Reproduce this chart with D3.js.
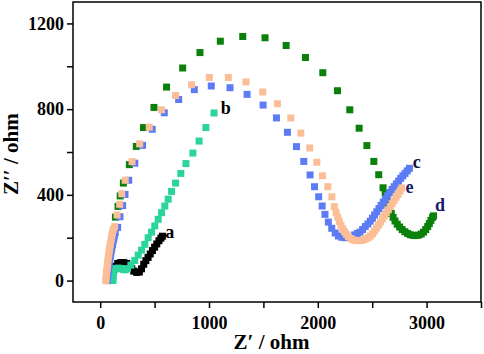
<!DOCTYPE html>
<html>
<head>
<meta charset="utf-8">
<script src="https://cdn.jsdelivr.net/npm/d3@7"></script>
<style>
  body { margin: 0; background: #fff; }
  svg text { font-family: "Times New Roman", "Liberation Serif", serif; font-weight: bold; }
</style>
</head>
<body>
<div id="chart"></div>
<script>
// Nyquist data, [Z', Z''] in ohm
var curveA = [[106,14],[115,42],[133,66],[161,80],[189,84],[216,84],[244,80],[271,70],[290,56],[308,44],
  [336,38],[360,40],[380,55],[400,76],[420,93],[440,108],[460,124],[480,140],[500,156],[520,171],
  [540,186],[558,198],[572,207]];

var curveB = [[118,0],[118,14],[120,28],[124,42],[132,52],[150,57],[170,58],[190,56],[210,52],[230,50],
  [251,56],[282,72],[318,94],[349,119],[380,142],[410,169],[441,200],[472,226],[502,255],[533,286],
  [564,317],[594,348],[625,380],[656,416],[693,455],[741,500],[788,546],[852,595],[909,651],[971,714],
  [1046,782]];

var curveC = [[65,0],[67,14],[70,28],[73,42],[76,56],[80,70],[84,84],[88,98],[92,112],[97,126],
  [102,140],[107,154],[113,168],[119,182],[125,196],[131,210],[138,224],[160,248],[182,298],[206,350],
  [228,402],[262,468],[318,548],[389,631],[478,706],[589,783],[721,845],[865,891],[1021,908],[1193,900],
  [1350,869],[1497,819],[1620,759],[1721,692],[1804,625],[1871,556],[1929,493],[1970,438],[2008,391],
  [2040,348],[2066,309],[2097,273],[2128,244],[2160,222],[2190,208],[2220,202],[2250,200],[2280,202],
  [2310,206],[2338,213],[2364,220],[2388,226],[2412,238],[2436,252],[2460,264],[2482,277],[2502,291],
  [2522,306],[2542,321],[2562,336],[2582,351],[2602,366],[2622,381],[2642,396],[2662,411],[2682,425],
  [2702,438],[2722,451],[2742,464],[2762,477],[2782,489],[2802,500],[2822,512],[2842,524]];

var curveD = [[58,0],[60,15],[63,30],[66,45],[70,60],[73,75],[77,90],[81,105],[85,120],[90,135],
  [95,150],[100,165],[105,180],[111,195],[117,210],[123,225],[130,240],[140,296],[164,346],[184,395],
  [213,455],[268,541],[332,626],[398,714],[494,808],[610,903],[758,992],[917,1064],[1104,1117],[1310,1139],
  [1515,1133],[1709,1097],[1887,1041],[2046,970],[2181,886],[2294,797],[2380,711],[2451,630],[2515,556],
  [2560,494],[2600,433],[2620,405],[2634,380],[2646,356],[2660,333],[2675,313],[2692,295],[2710,278],
  [2730,263],[2752,250],[2775,238],[2800,228],[2825,220],[2850,214],[2875,211],[2900,210],[2925,212],
  [2950,217],[2972,226],[2992,238],[3010,252],[3025,266],[3040,281],[3055,295],[3064,302]];

var curveE = [[52,0],[54,14],[57,28],[60,42],[63,56],[66,70],[69,84],[72,98],[76,112],[80,126],
  [84,140],[88,154],[92,168],[97,182],[102,196],[107,210],[113,224],[120,238],[133,252],[155,306],
  [179,356],[198,405],[230,468],[293,555],[363,638],[451,716],[564,797],[693,864],[840,914],[1003,948],
  [1178,948],[1340,927],[1494,880],[1629,825],[1752,759],[1844,688],[1926,619],[1991,552],[2043,489],
  [2092,438],[2129,391],[2152,345],[2168,318],[2183,296],[2198,276],[2213,258],[2229,242],[2245,228],
  [2262,216],[2281,205],[2302,196],[2325,190],[2348,187],[2372,186],[2396,187],[2420,190],[2443,195],
  [2464,201],[2484,208],[2503,218],[2522,231],[2540,245],[2558,259],[2576,273],[2594,288],[2612,302],
  [2630,316],[2648,330],[2666,345],[2684,359],[2702,374],[2720,389],[2738,403],[2756,418],[2772,432]];

var seriesNames = ["a", "b", "d", "c", "e"];   // drawing order
var seriesData = [curveA, curveB, curveD, curveC, curveE];
var seriesColors = ["#000000", "#2bd49b", "#0b800b", "#5b7cf4", "#fcbe96"];

var labelText = ["a", "b", "c", "d", "e"];
var labelX = [640, 1155, 2909, 3124, 2842];
var labelY = [226, 805, 556, 352, 439];
var labelColors = ["#000000", "#000000", "#111133", "#1a1a66", "#1a1a66"];

var xTicks = [0, 500, 1000, 1500, 2000, 2500, 3000, 3500];
var yTicks = [0, 200, 400, 600, 800, 1000, 1200];

function init() {
  var w = 484, h = 354;
  var margin = {top: 2, right: 3, bottom: 52, left: 73};
  var iw = w - margin.left - margin.right;
  var ih = h - margin.top - margin.bottom;

  var svg = d3.select("#chart").append("svg")
    .attr("width", w)
    .attr("height", h);

  var g = svg.append("g")
    .attr("transform", "translate(" + margin.left + "," + margin.top + ")");

  var x = d3.scaleLinear().domain([-250, 3500]).range([0, iw]);
  var y = d3.scaleLinear().domain([-100, 1300]).range([ih, 0]);

  // axes: every tick drawn, only the round thousands / 400s labelled
  var xAxis = d3.axisBottom(x)
    .tickValues(xTicks)
    .tickSize(6)
    .tickPadding(8)
    .tickFormat(function(d) { return d % 1000 === 0 ? d : ""; });

  var yAxis = d3.axisLeft(y)
    .tickValues(yTicks)
    .tickSize(6)
    .tickPadding(3)
    .tickFormat(function(d) { return d % 400 === 0 ? d : ""; });

  var gx = g.append("g").attr("transform", "translate(0," + ih + ")").call(xAxis);
  var gy = g.append("g").call(yAxis);

  [gx, gy].forEach(function(a) {
    a.select(".domain").remove();
    a.selectAll("line").attr("stroke", "#000").attr("stroke-width", 1.5);
    a.selectAll("text")
      .attr("fill", "#000")
      .style("font-size", "18px")
      .style("font-family", "'Times New Roman', 'Liberation Serif', serif")
      .style("font-weight", "bold");
  });

  // frame
  g.append("rect")
    .attr("x", 0).attr("y", 0)
    .attr("width", iw).attr("height", ih)
    .attr("fill", "none")
    .attr("stroke", "#000")
    .attr("stroke-width", 1.5);

  // square markers, one group per series
  var size = 7;
  var groups = g.selectAll("g.series")
    .data(seriesData)
    .enter()
    .append("g")
    .attr("class", "series")
    .attr("fill", function(d, i) { return seriesColors[i]; });

  groups.selectAll("rect")
    .data(function(d) { return d; })
    .enter()
    .append("rect")
    .attr("x", function(d) { return x(d[0]) - size / 2; })
    .attr("y", function(d) { return y(d[1]) - size / 2; })
    .attr("width", size)
    .attr("height", size);

  // curve labels
  g.selectAll("text.lbl")
    .data(labelText)
    .enter()
    .append("text")
    .attr("class", "lbl")
    .attr("x", function(d, i) { return x(labelX[i]); })
    .attr("y", function(d, i) { return y(labelY[i]); })
    .attr("dy", "0.35em")
    .attr("text-anchor", "middle")
    .attr("fill", function(d, i) { return labelColors[i]; })
    .style("font-size", "18px")
    .text(function(d) { return d; });

  // axis titles
  svg.append("text")
    .attr("x", margin.left + x(1575))
    .attr("y", 349)
    .attr("text-anchor", "middle")
    .style("font-size", "21px")
    .text("Z\u2032 / ohm");

  svg.append("text")
    .attr("transform", "translate(18," + (margin.top + y(590)) + ") rotate(-90)")
    .attr("text-anchor", "middle")
    .style("font-size", "21px")
    .text("Z\u2032\u2032 / ohm");
}

window.onload = init;
</script>
</body>
</html>
